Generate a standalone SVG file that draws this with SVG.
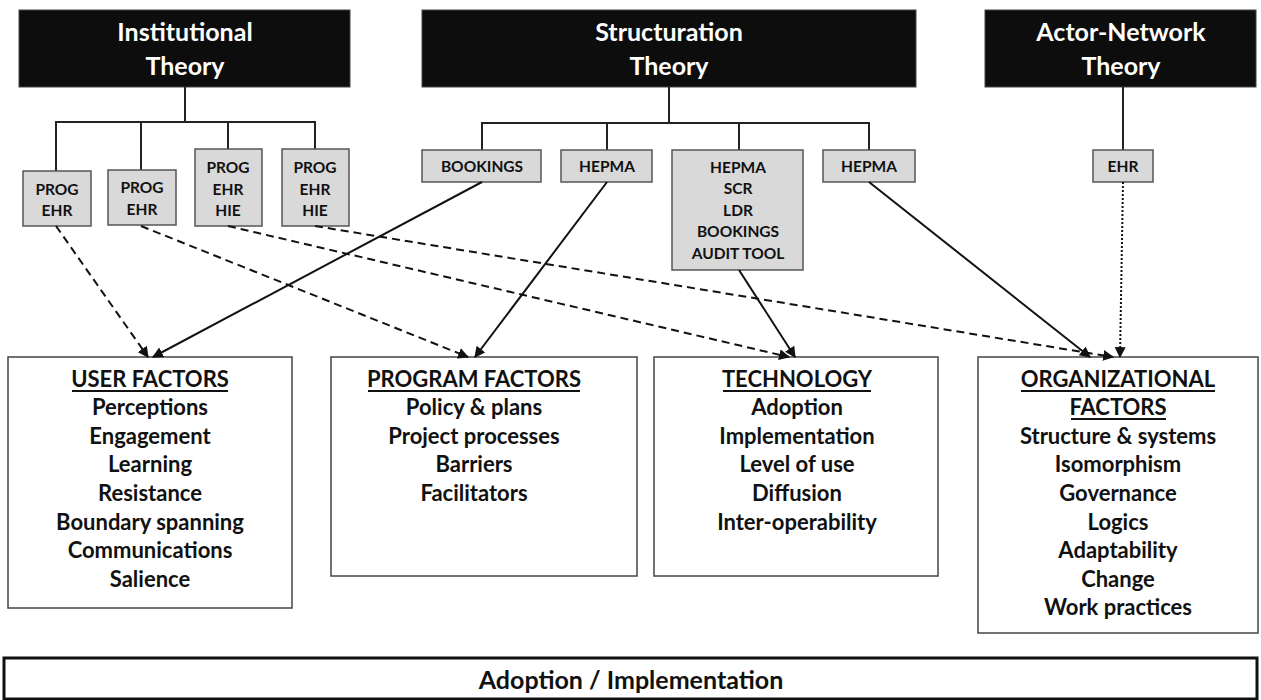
<svg xmlns="http://www.w3.org/2000/svg" width="1261" height="700" viewBox="0 0 1261 700">
  <style>
    .theory rect { fill: #0d0d0d; stroke: #444; stroke-width: 1; }
    .theory text { fill: #ffffff; font-family: Lato, "Open Sans", "Liberation Sans", sans-serif; font-weight: bold; font-size: 25px; text-anchor: middle; }
    .sys rect { fill: #d9d9d9; stroke: #555; stroke-width: 1.5; }
    .sys text { fill: #111; font-family: Lato, "Open Sans", "Liberation Sans", sans-serif; font-weight: bold; font-size: 15.5px; text-anchor: middle; }
    .factor rect { fill: #ffffff; stroke: #444; stroke-width: 1.5; }
    .factor text { fill: #111; font-family: Lato, "Open Sans", "Liberation Sans", sans-serif; font-weight: bold; font-size: 22px; text-anchor: middle; }
    .factor line { stroke: #111; stroke-width: 2; }
    .tree { fill: none; stroke: #222; stroke-width: 2; }
    .solid { fill: none; stroke: #111; stroke-width: 2; }
    .dashed { fill: none; stroke: #111; stroke-width: 2; stroke-dasharray: 8 5; }
    .dotted { fill: none; stroke: #111; stroke-width: 2; stroke-dasharray: 2 2; }
  </style>
  <defs>
    <marker id="arrow" viewBox="0 0 10 10" refX="9" refY="5" markerWidth="5.5" markerHeight="5.5" orient="auto" markerUnits="strokeWidth">
      <path d="M0,0 L10,5 L0,10 z" fill="#111"/>
    </marker>
  </defs>

  <!-- theory headers -->
  <g id="institutional-theory" class="theory">
    <rect x="19" y="10" width="331" height="77"/>
    <text x="185" y="41">Institutional</text>
    <text x="185" y="75">Theory</text>
  </g>
  <g id="structuration-theory" class="theory">
    <rect x="422" y="10" width="494" height="77"/>
    <text x="669" y="41">Structuration</text>
    <text x="669" y="75">Theory</text>
  </g>
  <g id="actor-network-theory" class="theory">
    <rect x="985" y="10" width="271" height="77"/>
    <text x="1121" y="41">Actor-Network</text>
    <text x="1121" y="75">Theory</text>
  </g>

  <!-- branching from each theory to its systems -->
  <g id="tree-lines" class="tree">
    <path d="M185,87 V122 M56,171 V122 H315 V149 M141,122 V170 M228,122 V149"/>
    <path d="M669,87 V123 M482,150 V123 H869 V150 M607,123 V150 M739,123 V150"/>
    <path d="M1123,87 V150"/>
  </g>

  <!-- systems studied -->
  <g id="sys-prog-ehr-1" class="sys">
    <rect x="23" y="171" width="68" height="55"/>
    <text x="57" y="195">PROG</text>
    <text x="57" y="216">EHR</text>
  </g>
  <g id="sys-prog-ehr-2" class="sys">
    <rect x="108" y="170" width="68" height="55"/>
    <text x="142" y="193">PROG</text>
    <text x="142" y="215">EHR</text>
  </g>
  <g id="sys-prog-ehr-hie-1" class="sys">
    <rect x="195" y="149" width="67" height="77"/>
    <text x="228" y="173">PROG</text>
    <text x="228" y="195">EHR</text>
    <text x="228" y="216">HIE</text>
  </g>
  <g id="sys-prog-ehr-hie-2" class="sys">
    <rect x="282" y="149" width="67" height="77"/>
    <text x="315" y="173">PROG</text>
    <text x="315" y="195">EHR</text>
    <text x="315" y="216">HIE</text>
  </g>
  <g id="sys-bookings" class="sys">
    <rect x="422" y="150" width="119" height="32"/>
    <text x="482" y="172">BOOKINGS</text>
  </g>
  <g id="sys-hepma-1" class="sys">
    <rect x="561" y="150" width="91" height="32"/>
    <text x="607" y="172">HEPMA</text>
  </g>
  <g id="sys-multi" class="sys">
    <rect x="672" y="150" width="131" height="120"/>
    <text x="738" y="173">HEPMA</text>
    <text x="738" y="194">SCR</text>
    <text x="738" y="216">LDR</text>
    <text x="738" y="237">BOOKINGS</text>
    <text x="738" y="259">AUDIT TOOL</text>
  </g>
  <g id="sys-hepma-2" class="sys">
    <rect x="823" y="150" width="92" height="32"/>
    <text x="869" y="172">HEPMA</text>
  </g>
  <g id="sys-ehr" class="sys">
    <rect x="1093" y="150" width="60" height="32"/>
    <text x="1123" y="172">EHR</text>
  </g>

  <!-- factor groups -->
  <g id="user-factors" class="factor">
    <rect x="8" y="357" width="284" height="251"/>
    <text x="150" y="387">USER FACTORS</text>
    <line x1="72" y1="391" x2="228" y2="391"/>
    <text x="150" y="415">Perceptions</text>
    <text x="150" y="444">Engagement</text>
    <text x="150" y="472">Learning</text>
    <text x="150" y="501">Resistance</text>
    <text x="150" y="530">Boundary spanning</text>
    <text x="150" y="558">Communications</text>
    <text x="150" y="587">Salience</text>
  </g>
  <g id="program-factors" class="factor">
    <rect x="331" y="357" width="306" height="219"/>
    <text x="474" y="387">PROGRAM FACTORS</text>
    <line x1="368" y1="391" x2="580" y2="391"/>
    <text x="474" y="415">Policy &amp; plans</text>
    <text x="474" y="444">Project processes</text>
    <text x="474" y="472">Barriers</text>
    <text x="474" y="501">Facilitators</text>
  </g>
  <g id="technology" class="factor">
    <rect x="654" y="357" width="284" height="219"/>
    <text x="797" y="387">TECHNOLOGY</text>
    <line x1="723" y1="391" x2="871" y2="391"/>
    <text x="797" y="415">Adoption</text>
    <text x="797" y="444">Implementation</text>
    <text x="797" y="472">Level of use</text>
    <text x="797" y="501">Diffusion</text>
    <text x="797" y="530">Inter-operability</text>
  </g>
  <g id="organizational-factors" class="factor">
    <rect x="978" y="357" width="280" height="276"/>
    <text x="1118" y="387">ORGANIZATIONAL</text>
    <line x1="1021" y1="391" x2="1215" y2="391"/>
    <text x="1118" y="415">FACTORS</text>
    <line x1="1071" y1="419" x2="1166" y2="419"/>
    <text x="1118" y="444">Structure &amp; systems</text>
    <text x="1118" y="472">Isomorphism</text>
    <text x="1118" y="501">Governance</text>
    <text x="1118" y="530">Logics</text>
    <text x="1118" y="558">Adaptability</text>
    <text x="1118" y="587">Change</text>
    <text x="1118" y="615">Work practices</text>
  </g>

  <!-- outcome bar -->
  <g id="adoption-implementation" class="factor">
    <rect x="4" y="658" width="1253" height="41" style="stroke:#111;stroke-width:3"/>
    <text x="631" y="689" style="font-size:25px">Adoption / Implementation</text>
  </g>

  <!-- links from systems to factor groups -->
  <g id="connectors">
    <path class="dashed" d="M56,226 L148,357" marker-end="url(#arrow)"/>
    <path class="dashed" d="M141,226 L468,357" marker-end="url(#arrow)"/>
    <path class="dashed" d="M228,226 L789,357" marker-end="url(#arrow)"/>
    <path class="dashed" d="M315,226 L1113,357" marker-end="url(#arrow)"/>
    <path class="solid" d="M482,182 L153,357" marker-end="url(#arrow)"/>
    <path class="solid" d="M607,182 L475,357" marker-end="url(#arrow)"/>
    <path class="solid" d="M739,270 L795,357" marker-end="url(#arrow)"/>
    <path class="solid" d="M869,182 L1090,357" marker-end="url(#arrow)"/>
    <path class="dotted" d="M1123,182 L1120,357" marker-end="url(#arrow)"/>
  </g>
</svg>
